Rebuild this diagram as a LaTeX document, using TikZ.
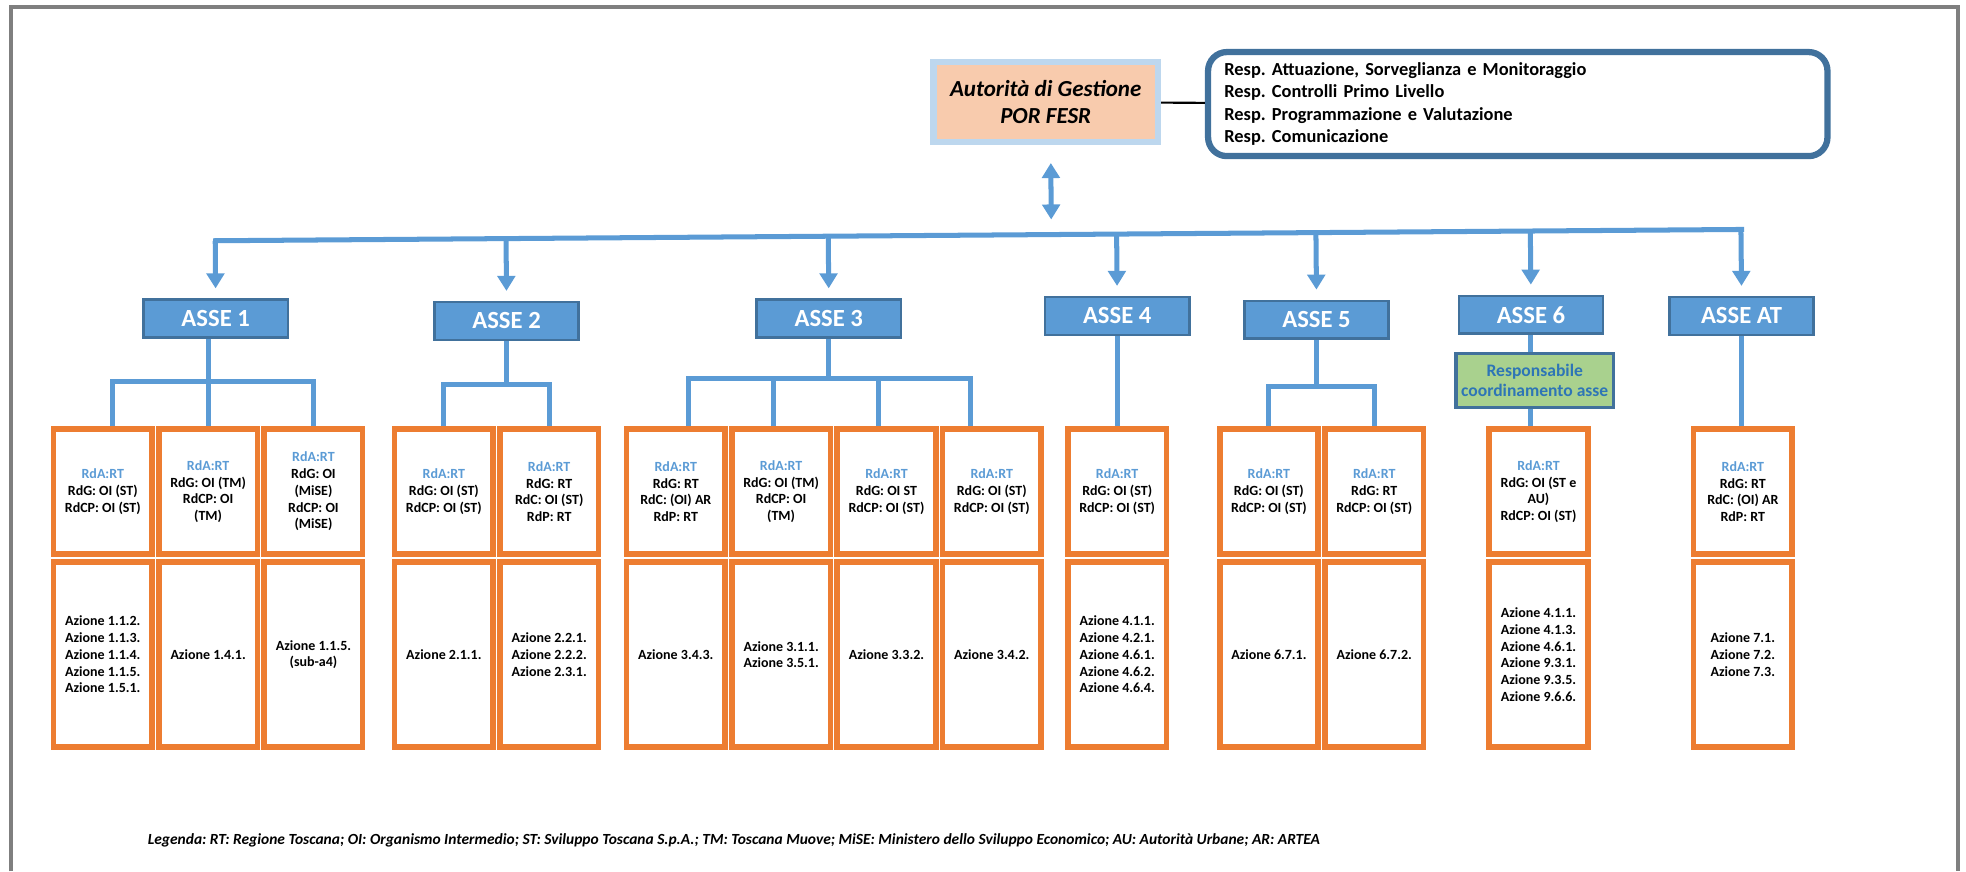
\documentclass[tikz,border=0pt]{standalone}
\usepackage{fontspec}
\setmainfont{Carlito}
\usepackage{tikz}
\usetikzlibrary{positioning,arrows.meta,calc}
\definecolor{asseblu}{HTML}{5B9BD5}
\definecolor{assebordo}{HTML}{41719C}
\definecolor{arancio}{HTML}{ED7D31}
\definecolor{pesca}{HTML}{F8CBAD}
\definecolor{celeste}{HTML}{BDD7EE}
\definecolor{verdeasse}{HTML}{A9D18E}
\definecolor{testoverde}{HTML}{2E75B6}
\definecolor{cornice}{HTML}{7F7F7F}
\frenchspacing

\begin{document}
\begin{tikzpicture}[x=0.6pt,y=-0.6pt,
   asse/.style={draw=assebordo,line width=1.2pt,fill=asseblu,text=white,
              minimum width=69pt,minimum height=18pt,inner sep=0pt,
              font=\bfseries\fontsize{11.8}{13}\selectfont},
   ruoli/.style={draw=arancio,line width=2.7pt,minimum width=47.1pt,
              minimum height=59.7pt,inner sep=0pt,align=center,
              font=\bfseries\fontsize{6.7}{8}\selectfont},
   azioni/.style={ruoli,minimum height=88.5pt},
   filo/.style={draw=asseblu,line width=2.4pt},
   freccia/.style={filo,-{Triangle[width=8.4pt,length=7.2pt]},shorten >=4.8pt},
   doppia/.style={filo,{Triangle[width=8.4pt,length=7.2pt]}-{Triangle[width=8.4pt,length=7.2pt]}},
]
\useasboundingbox (0,0) rectangle (1568,695);
\draw[cornice,line width=1.9pt] (8.8,695) |- (1561.6,5.6) -- (1561.6,695);

% ----- top: autorita di gestione
\node[draw=celeste,line width=3pt,fill=pesca,minimum width=107.4pt,
      minimum height=38.4pt,align=center,
      font=\bfseries\itshape\fontsize{11}{13.2}\selectfont] (adg) at (834,81.5)
   {Autorità di Gestione\\POR FESR};
\node[draw=assebordo,line width=3pt,rounded corners=9pt,text width=280.8pt,
      align=left,inner xsep=7.8pt,minimum height=49.8pt,
      font=\bfseries\fontsize{8.8}{10.8}\selectfont] (resp) at (1210.5,83)
   {Resp.\ Attuazione, Sorveglianza e Monitoraggio\\
    Resp.\ Controlli Primo Livello\\
    Resp.\ Programmazione e Valutazione\\
    Resp.\ Comunicazione};
\draw[line width=1pt] (adg) -- (resp);

% ----- assi
\coordinate (busL) at (172,192);
\coordinate (busR) at (1389,183);
\node[asse] (asse1) at (172,254) {ASSE 1};
\node[asse] (asse2) at (404,256) {ASSE 2};
\node[asse] (asse3) at (661,254) {ASSE 3};
\node[asse] (asse4) at (891,252) {ASSE 4};
\node[asse] (asse5) at (1050,255) {ASSE 5};
\node[asse] (asse6) at (1221,251) {ASSE 6};
\node[asse] (asse7) at (1389,252) {ASSE AT};
\node[draw=assebordo,line width=1.5pt,fill=verdeasse,text=testoverde,
      minimum width=75.3pt,minimum height=25.5pt,align=center,inner sep=0pt,
      font=\bfseries\fontsize{8.4}{9.4}\selectfont] (coord6) at (1224,303.5)
   {Responsabile\\coordinamento asse};

% wires
\draw[filo,line cap=rect] (busL) -- (busR);
\draw[doppia,shorten <=8.4pt,shorten >=7.2pt] ([xshift=2.4pt]adg.south)
   -- ($(busL)!([xshift=2.4pt]adg.south)!(busR)$);
\draw[freccia] ($(busL)!(asse1.north)!(busR)$) -- (asse1.north);
\draw[freccia] ($(busL)!(asse2.north)!(busR)$) -- (asse2.north);
\draw[freccia] ($(busL)!(asse3.north)!(busR)$) -- (asse3.north);
\draw[freccia] ($(busL)!(asse4.north)!(busR)$) -- (asse4.north);
\draw[freccia] ($(busL)!(asse5.north)!(busR)$) -- (asse5.north);
\draw[freccia] ($(busL)!(asse6.north)!(busR)$) -- (asse6.north);
\draw[freccia] ($(busL)!(asse7.north)!(busR)$) -- (asse7.north);

% ----- asse 1
\node[ruoli] (r1a) at (82,392)
   {{\color{asseblu}RdA:RT}\\RdG: OI (ST)\\RdCP: OI (ST)};
\node[ruoli,right=0.6pt of r1a] (r1b)
   {{\color{asseblu}RdA:RT}\\RdG: OI (TM)\\RdCP: OI\\(TM)};
\node[ruoli,right=0.6pt of r1b] (r1c)
   {{\color{asseblu}RdA:RT}\\RdG: OI\\(MiSE)\\RdCP: OI\\(MiSE)};
\node[azioni,below=1.2pt of r1a] (z1a)
   {Azione 1.1.2.\\Azione 1.1.3.\\Azione 1.1.4.\\Azione 1.1.5.\\Azione 1.5.1.};
\node[azioni,below=1.2pt of r1b] (z1b) {Azione 1.4.1.};
\node[azioni,below=1.2pt of r1c] (z1c) {Azione 1.1.5.\\(sub-a4)};
\coordinate (bar1) at ([xshift=4.8pt,yshift=21.6pt]r1a.north);
\draw[filo] ([xshift=4.8pt]r1a.north) -- (bar1) -| (r1c.north);
\draw[filo] (asse1.south -| r1b.north) -- (r1b.north);

% ----- asse 2
\node[ruoli] (r2a) at (354,392)
   {{\color{asseblu}RdA:RT}\\RdG: OI (ST)\\RdCP: OI (ST)};
\node[ruoli,right=0.6pt of r2a] (r2b)
   {{\color{asseblu}RdA:RT}\\RdG: RT\\RdC: OI (ST)\\RdP: RT};
\node[azioni,below=1.2pt of r2a] (z2a) {Azione 2.1.1.};
\node[azioni,below=1.2pt of r2b] (z2b)
   {Azione 2.2.1.\\Azione 2.2.2.\\Azione 2.3.1.};
\coordinate (bar2) at ([yshift=19.8pt]r2a.north);
\draw[filo] (r2a.north) -- (bar2) -| (r2b.north);
\draw[filo] (asse2.south) -- (asse2.south |- bar2);

% ----- asse 3
\node[ruoli] (r3a) at (539,392)
   {{\color{asseblu}RdA:RT}\\RdG: RT\\RdC: (OI) AR\\RdP: RT};
\node[ruoli,right=0.6pt of r3a] (r3b)
   {{\color{asseblu}RdA:RT}\\RdG: OI (TM)\\RdCP: OI\\(TM)};
\node[ruoli,right=0.6pt of r3b] (r3c)
   {{\color{asseblu}RdA:RT}\\RdG: OI ST\\RdCP: OI (ST)};
\node[ruoli,right=0.6pt of r3c] (r3d)
   {{\color{asseblu}RdA:RT}\\RdG: OI (ST)\\RdCP: OI (ST)};
\node[azioni,below=1.2pt of r3a] (z3a) {Azione 3.4.3.};
\node[azioni,below=1.2pt of r3b] (z3b) {Azione 3.1.1.\\Azione 3.5.1.};
\node[azioni,below=1.2pt of r3c] (z3c) {Azione 3.3.2.};
\node[azioni,below=1.2pt of r3d] (z3d) {Azione 3.4.2.};
\coordinate (bar3) at ([xshift=6pt,yshift=22.8pt]r3a.north);
\draw[filo] ([xshift=6pt]r3a.north) -- (bar3) -| ([xshift=-10.2pt]r3d.north);
\draw[filo] ([xshift=-3.6pt]r3b.north) -- ([xshift=-3.6pt]r3b.north |- bar3);
\draw[filo] ([xshift=-3.6pt]r3c.north) -- ([xshift=-3.6pt]r3c.north |- bar3);
\draw[filo] (asse3.south) -- (asse3.south |- bar3);

% ----- asse 4
\node[ruoli] (r4a) at (891,392)
   {{\color{asseblu}RdA:RT}\\RdG: OI (ST)\\RdCP: OI (ST)};
\node[azioni,below=1.2pt of r4a] (z4a)
   {Azione 4.1.1.\\Azione 4.2.1.\\Azione 4.6.1.\\Azione 4.6.2.\\Azione 4.6.4.};
\draw[filo] (asse4.south) -- (r4a.north);

% ----- asse 5
\node[ruoli] (r5a) at (1012,392)
   {{\color{asseblu}RdA:RT}\\RdG: OI (ST)\\RdCP: OI (ST)};
\node[ruoli,right=0.6pt of r5a] (r5b)
   {{\color{asseblu}RdA:RT}\\RdG: RT\\RdCP: OI (ST)};
\node[azioni,below=1.2pt of r5a] (z5a) {Azione 6.7.1.};
\node[azioni,below=1.2pt of r5b] (z5b) {Azione 6.7.2.};
\coordinate (bar5) at ([yshift=19.2pt]r5a.north);
\draw[filo] (r5a.north) -- (bar5) -| (r5b.north);
\draw[filo] (asse5.south) -- (asse5.south |- bar5);

% ----- asse 6
\node[ruoli] (r6a) at (1227,392)
   {{\color{asseblu}RdA:RT}\\RdG: OI (ST e\\AU)\\RdCP: OI (ST)};
\node[azioni,below=1.2pt of r6a] (z6a)
   {Azione 4.1.1.\\Azione 4.1.3.\\Azione 4.6.1.\\Azione 9.3.1.\\Azione 9.3.5.\\Azione 9.6.6.};
\draw[filo] (asse6.south) -- (asse6.south |- coord6.north);
\draw[filo] (coord6.south -| asse6.south) -- (asse6.south |- r6a.north);

% ----- asse AT
\node[ruoli] (r7a) at (1390,392)
   {{\color{asseblu}RdA:RT}\\RdG: RT\\RdC: (OI) AR\\RdP: RT};
\node[azioni,below=1.2pt of r7a] (z7a) {Azione 7.1.\\Azione 7.2.\\Azione 7.3.};
\draw[filo] (asse7.south) -- (asse7.south |- r7a.north);

% ----- legenda
\node[anchor=west,font=\bfseries\itshape\fontsize{7.4}{9}\selectfont] (legenda) at (112,670)
   {Legenda: RT: Regione Toscana; OI: Organismo Intermedio; ST: Sviluppo Toscana S.p.A.; TM: Toscana Muove; MiSE: Ministero dello Sviluppo Economico; AU: Autorità Urbane; AR: ARTEA};
\end{tikzpicture}
\end{document}
